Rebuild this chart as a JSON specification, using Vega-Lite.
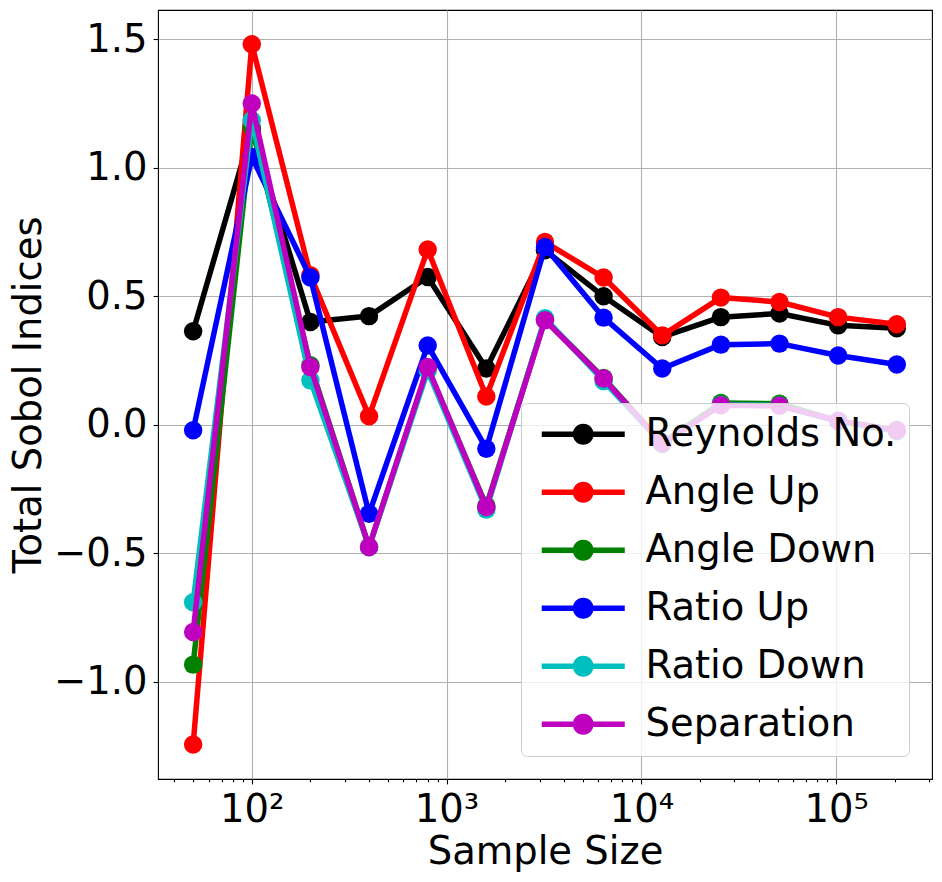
{
  "$schema": "https://vega.github.io/schema/vega-lite/v6.json",
  "width": 774,
  "height": 769,
  "autosize": {"type": "none"},
  "padding": {"left": 158, "top": 10, "right": 10, "bottom": 103},
  "background": "white",
  "config": {
    "view": {"stroke": "black", "strokeWidth": 1.1},
    "font": "DejaVu Sans"
  },
  "data": {
    "values": [
      {"n": 50, "series": "Reynolds No.", "v": 0.364},
      {"n": 100, "series": "Reynolds No.", "v": 1.15},
      {"n": 200, "series": "Reynolds No.", "v": 0.4},
      {"n": 400, "series": "Reynolds No.", "v": 0.423},
      {"n": 800, "series": "Reynolds No.", "v": 0.575},
      {"n": 1600, "series": "Reynolds No.", "v": 0.219},
      {"n": 3200, "series": "Reynolds No.", "v": 0.679},
      {"n": 6400, "series": "Reynolds No.", "v": 0.5},
      {"n": 12800, "series": "Reynolds No.", "v": 0.342},
      {"n": 25600, "series": "Reynolds No.", "v": 0.419},
      {"n": 51200, "series": "Reynolds No.", "v": 0.433},
      {"n": 102400, "series": "Reynolds No.", "v": 0.387},
      {"n": 204800, "series": "Reynolds No.", "v": 0.376},
      {"n": 50, "series": "Angle Up", "v": -1.244},
      {"n": 100, "series": "Angle Up", "v": 1.481},
      {"n": 200, "series": "Angle Up", "v": 0.582},
      {"n": 400, "series": "Angle Up", "v": 0.033},
      {"n": 800, "series": "Angle Up", "v": 0.682},
      {"n": 1600, "series": "Angle Up", "v": 0.11},
      {"n": 3200, "series": "Angle Up", "v": 0.711},
      {"n": 6400, "series": "Angle Up", "v": 0.573},
      {"n": 12800, "series": "Angle Up", "v": 0.348},
      {"n": 25600, "series": "Angle Up", "v": 0.495},
      {"n": 51200, "series": "Angle Up", "v": 0.478},
      {"n": 102400, "series": "Angle Up", "v": 0.419},
      {"n": 204800, "series": "Angle Up", "v": 0.391},
      {"n": 50, "series": "Angle Down", "v": -0.933},
      {"n": 100, "series": "Angle Down", "v": 1.159},
      {"n": 200, "series": "Angle Down", "v": 0.232},
      {"n": 400, "series": "Angle Down", "v": -0.475},
      {"n": 800, "series": "Angle Down", "v": 0.22},
      {"n": 1600, "series": "Angle Down", "v": -0.315},
      {"n": 3200, "series": "Angle Down", "v": 0.41},
      {"n": 6400, "series": "Angle Down", "v": 0.182},
      {"n": 12800, "series": "Angle Down", "v": -0.07},
      {"n": 25600, "series": "Angle Down", "v": 0.085},
      {"n": 51200, "series": "Angle Down", "v": 0.082},
      {"n": 102400, "series": "Angle Down", "v": 0.015},
      {"n": 204800, "series": "Angle Down", "v": -0.02},
      {"n": 50, "series": "Ratio Up", "v": -0.021},
      {"n": 100, "series": "Ratio Up", "v": 1.042},
      {"n": 200, "series": "Ratio Up", "v": 0.573},
      {"n": 400, "series": "Ratio Up", "v": -0.346},
      {"n": 800, "series": "Ratio Up", "v": 0.309},
      {"n": 1600, "series": "Ratio Up", "v": -0.093},
      {"n": 3200, "series": "Ratio Up", "v": 0.692},
      {"n": 6400, "series": "Ratio Up", "v": 0.417},
      {"n": 12800, "series": "Ratio Up", "v": 0.219},
      {"n": 25600, "series": "Ratio Up", "v": 0.312},
      {"n": 51200, "series": "Ratio Up", "v": 0.316},
      {"n": 102400, "series": "Ratio Up", "v": 0.27},
      {"n": 204800, "series": "Ratio Up", "v": 0.235},
      {"n": 50, "series": "Ratio Down", "v": -0.69},
      {"n": 100, "series": "Ratio Down", "v": 1.185},
      {"n": 200, "series": "Ratio Down", "v": 0.173},
      {"n": 400, "series": "Ratio Down", "v": -0.475},
      {"n": 800, "series": "Ratio Down", "v": 0.21},
      {"n": 1600, "series": "Ratio Down", "v": -0.33},
      {"n": 3200, "series": "Ratio Down", "v": 0.415},
      {"n": 6400, "series": "Ratio Down", "v": 0.17},
      {"n": 12800, "series": "Ratio Down", "v": -0.075},
      {"n": 25600, "series": "Ratio Down", "v": 0.078},
      {"n": 51200, "series": "Ratio Down", "v": 0.075},
      {"n": 102400, "series": "Ratio Down", "v": 0.013},
      {"n": 204800, "series": "Ratio Down", "v": -0.025},
      {"n": 50, "series": "Separation", "v": -0.806},
      {"n": 100, "series": "Separation", "v": 1.25},
      {"n": 200, "series": "Separation", "v": 0.225},
      {"n": 400, "series": "Separation", "v": -0.475},
      {"n": 800, "series": "Separation", "v": 0.225},
      {"n": 1600, "series": "Separation", "v": -0.32},
      {"n": 3200, "series": "Separation", "v": 0.407},
      {"n": 6400, "series": "Separation", "v": 0.18},
      {"n": 12800, "series": "Separation", "v": -0.073},
      {"n": 25600, "series": "Separation", "v": 0.076},
      {"n": 51200, "series": "Separation", "v": 0.074},
      {"n": 102400, "series": "Separation", "v": 0.016},
      {"n": 204800, "series": "Separation", "v": -0.022}
    ]
  },
  "encoding": {
    "x": {
      "field": "n",
      "type": "quantitative",
      "scale": {"type": "log", "domain": [33, 310500], "nice": false},
      "axis": {
        "title": "Sample Size",
        "titleFont": "DejaVu Sans",
        "titleFontSize": 38.5,
        "titleFontWeight": "normal",
        "titleColor": "black",
        "titleBaseline": "alphabetic",
        "titleX": 387,
        "titleY": 84,
        "values": [40, 50, 60, 70, 80, 90, 100, 200, 300, 400, 500, 600, 700, 800, 900, 1000, 2000, 3000, 4000, 5000, 6000, 7000, 8000, 9000, 10000, 20000, 30000, 40000, 50000, 60000, 70000, 80000, 90000, 100000, 200000, 300000],
        "labelExpr": "datum.value == 100 ? '10²' : datum.value == 1000 ? '10³' : datum.value == 10000 ? '10⁴' : datum.value == 100000 ? '10⁵' : ''",
        "labelFont": "DejaVu Sans",
        "labelFontSize": 38.5,
        "labelColor": "black",
        "labelBaseline": "alphabetic",
        "labelPadding": 38,
        "labelOverlap": false,
        "labelFlush": false,
        "domain": false,
        "tickColor": "black",
        "tickWidth": 1.1,
        "tickSize": {"condition": {"test": "indexof([100, 1000, 10000, 100000], datum.value) >= 0", "value": 4.9}, "value": 2.8},
        "grid": true,
        "gridColor": "#b0b0b0",
        "gridWidth": 1.1,
        "gridOpacity": {"condition": {"test": "indexof([100, 1000, 10000, 100000], datum.value) >= 0", "value": 1}, "value": 0}
      }
    },
    "y": {
      "field": "v",
      "type": "quantitative",
      "scale": {"domain": [-1.378, 1.614], "nice": false, "zero": false},
      "axis": {
        "title": "Total Sobol Indices",
        "titleFont": "DejaVu Sans",
        "titleFontSize": 38.5,
        "titleFontWeight": "normal",
        "titleColor": "black",
        "titleAngle": 270,
        "titleAlign": "center",
        "titleBaseline": "alphabetic",
        "titleX": -118,
        "titleY": 384.5,
        "values": [-1, -0.5, 0, 0.5, 1, 1.5],
        "format": ".1f",
        "labelFont": "DejaVu Sans",
        "labelFontSize": 38.5,
        "labelColor": "black",
        "labelPadding": 6,
        "domain": false,
        "tickColor": "black",
        "tickWidth": 1.1,
        "tickSize": 4.9,
        "grid": true,
        "gridColor": "#b0b0b0",
        "gridWidth": 1.1
      }
    },
    "color": {
      "field": "series",
      "type": "nominal",
      "scale": {
        "domain": ["Reynolds No.", "Angle Up", "Angle Down", "Ratio Up", "Ratio Down", "Separation"],
        "range": ["#000000", "#ff0000", "#008000", "#0000ff", "#00bfbf", "#bf00bf"]
      },
      "legend": {
        "title": null,
        "orient": "none",
        "legendX": 363,
        "legendY": 393,
        "padding": 12,
        "rowPadding": 19,
        "labelFont": "DejaVu Sans",
        "labelFontSize": 38.5,
        "labelColor": "black",
        "labelLimit": 500,
        "labelOffset": 74,
        "symbolType": "M-1,-0.262L6.905,-0.262L6.905,0.262L-1,0.262Z M1.95,0A1,1,0,1,1,3.95,0A1,1,0,1,1,1.95,0Z",
        "symbolSize": 441,
        "symbolStrokeWidth": 0,
        "symbolOpacity": 1,
        "strokeColor": "#cccccc",
        "fillColor": "rgba(255,255,255,0.8)",
        "cornerRadius": 6
      }
    }
  },
  "layer": [
    {"transform": [{"filter": "datum.series === 'Reynolds No.'"}], "mark": {"type": "point", "filled": true, "size": 340, "opacity": 1}},
    {"transform": [{"filter": "datum.series === 'Reynolds No.'"}], "mark": {"type": "line", "strokeWidth": 5.5, "strokeJoin": "round"}},
    {"transform": [{"filter": "datum.series === 'Angle Up'"}], "mark": {"type": "line", "strokeWidth": 5.5, "strokeJoin": "round"}},
    {"transform": [{"filter": "datum.series === 'Angle Up'"}], "mark": {"type": "point", "filled": true, "size": 340, "opacity": 1}},
    {"transform": [{"filter": "datum.series === 'Angle Down'"}], "mark": {"type": "line", "strokeWidth": 5.5, "strokeJoin": "round"}},
    {"transform": [{"filter": "datum.series === 'Angle Down'"}], "mark": {"type": "point", "filled": true, "size": 340, "opacity": 1}},
    {"transform": [{"filter": "datum.series === 'Ratio Up'"}], "mark": {"type": "line", "strokeWidth": 5.5, "strokeJoin": "round"}},
    {"transform": [{"filter": "datum.series === 'Ratio Up'"}], "mark": {"type": "point", "filled": true, "size": 340, "opacity": 1}},
    {"transform": [{"filter": "datum.series === 'Ratio Down'"}], "mark": {"type": "line", "strokeWidth": 5.5, "strokeJoin": "round"}},
    {"transform": [{"filter": "datum.series === 'Ratio Down'"}], "mark": {"type": "point", "filled": true, "size": 340, "opacity": 1}},
    {"transform": [{"filter": "datum.series === 'Separation'"}], "mark": {"type": "line", "strokeWidth": 5.5, "strokeJoin": "round"}},
    {"transform": [{"filter": "datum.series === 'Separation'"}], "mark": {"type": "point", "filled": true, "size": 340, "opacity": 1}}
  ]
}
